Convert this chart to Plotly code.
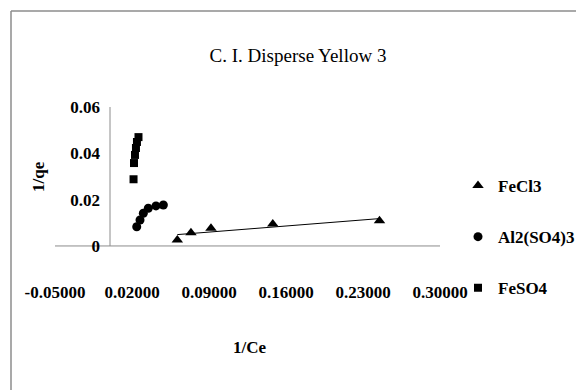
import numpy as np
import plotly.graph_objects as go

# ---- data ----
fecl3_x = [0.0612, 0.0736, 0.0918, 0.1480, 0.2450]
fecl3_y = [0.0026, 0.0057, 0.0076, 0.0095, 0.0109]

al_x = [0.0243, 0.0273, 0.0303, 0.0348, 0.0418, 0.0485]
al_y = [0.0083, 0.0112, 0.0141, 0.0163, 0.0173, 0.0177]

feso4_x = [0.0214, 0.0218, 0.0227, 0.0236, 0.0245, 0.0259]
feso4_y = [0.0288, 0.0358, 0.0393, 0.0423, 0.0449, 0.0470]

x_ticks = [-0.05, 0.02, 0.09, 0.16, 0.23, 0.30]
x_ticktext = ["-0.05000", "0.02000", "0.09000", "0.16000", "0.23000", "0.30000"]
y_ticks = [0, 0.02, 0.04, 0.06]
y_ticktext = ["0", "0.02", "0.04", "0.06"]

series_names = ["FeCl3", "Al2(SO4)3", "FeSO4"]
title_text = "C. I. Disperse Yellow 3"
x_title = "1/Ce"
y_title = "1/qe"

# linear trendline for FeCl3
slope, intercept = np.polyfit(fecl3_x, fecl3_y, 1)
trend_x = [min(fecl3_x), max(fecl3_x)]
trend_y = [slope * v + intercept for v in trend_x]

FONT = "Liberation Serif, Times New Roman, serif"
W, H = 576, 390
L, R, T, B = 55, 136, 107, 110
XR = [-0.05, 0.30]
YR = [-0.0147, 0.06]

def b(s):
    return "<b>" + s + "</b>"

fig = go.Figure()
fig.add_trace(go.Scatter(x=fecl3_x, y=fecl3_y, mode="markers", name=b(series_names[0]),
                         legendgroup="a",
                         marker=dict(symbol="triangle-up", size=10, color="black")))
fig.add_trace(go.Scatter(x=trend_x, y=trend_y, mode="lines", showlegend=False,
                         line=dict(color="black", width=1)))
fig.add_trace(go.Scatter(x=al_x, y=al_y, mode="markers", name=b(series_names[1]),
                         legendgroup="b",
                         marker=dict(symbol="circle", size=9, color="black")))
fig.add_trace(go.Scatter(x=feso4_x, y=feso4_y, mode="markers", name=b(series_names[2]),
                         legendgroup="c",
                         marker=dict(symbol="square", size=8, color="black")))

pw = W - L - R
ph = H - T - B
def px_x(p):
    return (p - L) / pw
def px_y(p):
    return (H - B - p) / ph

ypos = (0 - XR[0]) / (XR[1] - XR[0])

fig.update_layout(
    width=W, height=H,
    margin=dict(l=L, r=R, t=T, b=B, autoexpand=False),
    paper_bgcolor="white", plot_bgcolor="white",
    font=dict(family=FONT, color="black", size=17),
    title=dict(text=title_text, xref="container", yref="container",
               x=298 / W, y=1 - 55 / H, xanchor="center", yanchor="middle",
               font=dict(family=FONT, size=19, color="black")),
    xaxis=dict(range=XR, tickvals=x_ticks, ticktext=[b(t) for t in x_ticktext],
               showgrid=False, zeroline=False, showline=False, ticks="",
               automargin=False, tickfont=dict(family=FONT, size=17)),
    yaxis=dict(range=YR, tickvals=y_ticks, ticktext=[b(t) for t in y_ticktext],
               showgrid=False, zeroline=False, showline=False, ticks="",
               anchor="free", position=ypos, ticklabelstandoff=10,
               automargin=False, tickfont=dict(family=FONT, size=17)),
    legend=dict(x=px_x(458), y=px_y(237), xanchor="left", yanchor="middle",
                tracegroupgap=26, bgcolor="rgba(0,0,0,0)",
                font=dict(family=FONT, size=17)),
    showlegend=True,
    shapes=[
        dict(type="line", xref="x", yref="y", x0=XR[0], x1=XR[1], y0=0, y1=0,
             line=dict(color="#8c8c8c", width=1), layer="below"),
        dict(type="line", xref="x", yref="y", x0=0, x1=0, y0=0, y1=YR[1],
             line=dict(color="#8c8c8c", width=1), layer="below"),
        dict(type="line", xref="paper", yref="paper",
             x0=px_x(11), x1=px_x(11), y0=px_y(390), y1=px_y(11),
             line=dict(color="#8c8c8c", width=1.5)),
        dict(type="line", xref="paper", yref="paper",
             x0=px_x(11), x1=px_x(576), y0=px_y(11), y1=px_y(11),
             line=dict(color="#8c8c8c", width=1.5)),
    ],
    annotations=[
        dict(text=b(x_title), xref="paper", yref="paper", x=px_x(250), y=px_y(347),
             showarrow=False, xanchor="center", yanchor="middle",
             font=dict(family=FONT, size=17)),
        dict(text=b(y_title), xref="paper", yref="paper", x=px_x(38), y=px_y(177),
             showarrow=False, xanchor="center", yanchor="middle", textangle=-90,
             font=dict(family=FONT, size=17)),
    ],
)

fig.write_html("out.html")
